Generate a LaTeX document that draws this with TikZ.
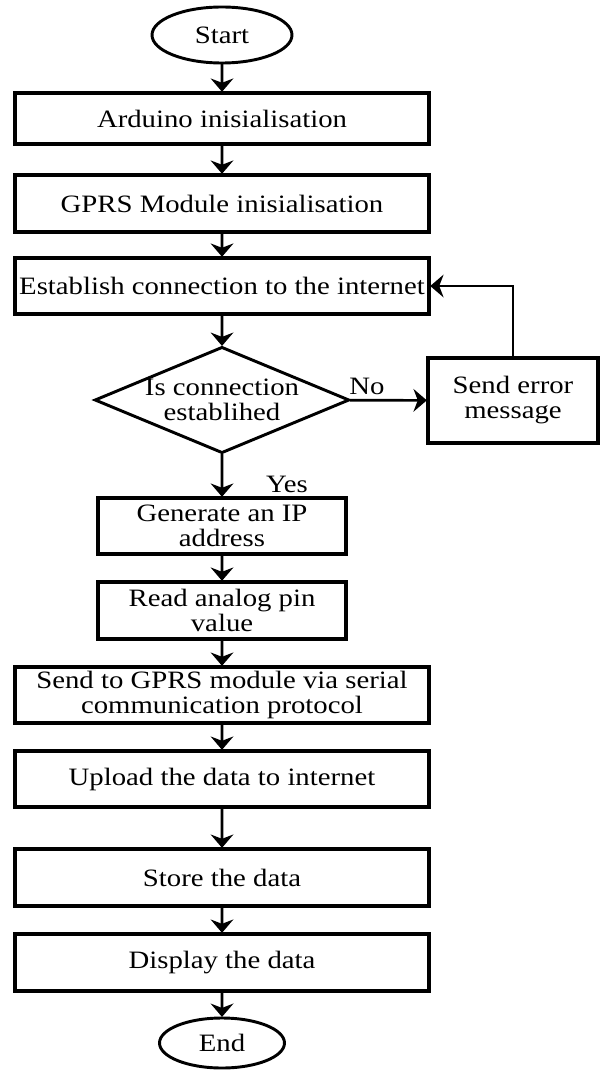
\documentclass[tikz,border=0pt]{standalone}
\usepackage{fontspec}
\setmainfont{Liberation Serif}[FakeStretch=1.15]
\usepackage{tikz}
\usetikzlibrary{shapes,arrows.meta,positioning}
\tikzstyle{flow} = [line width=2pt,-{Stealth[length=10pt,width=17pt]}]
\tikzstyle{proc} = [rectangle, draw, line width=2.4pt, align=center, font=\fontsize{25}{25}\selectfont]
\tikzstyle{term} = [ellipse, draw, line width=2.2pt, font=\fontsize{25}{25}\selectfont]

\begin{document}
\begin{tikzpicture}[x=1pt, y=-1pt, scale=0.75, transform shape]
    \useasboundingbox (0,0) rectangle (600,1070);
    % main column
    \node[term, minimum width=140pt, minimum height=56pt] (start) at (222,35) {Start};
    \node[proc, minimum width=414pt, minimum height=51pt] (ard) at (222,118.5) {Arduino inisialisation};
    \node[proc, minimum width=414pt, minimum height=57pt] (gprs) at (222,203.5) {GPRS Module inisialisation};
    \node[proc, minimum width=414pt, minimum height=56pt, inner xsep=0pt] (est) at (222,286) {Establish connection to the internet};
    \node[diamond, draw, line width=2.2pt, aspect=2.4, inner sep=0pt, align=center, font=\fontsize{25}{25}\selectfont] (dec) at (222,400) {Is connection\\establihed};
    \node[proc, minimum width=170pt, minimum height=85pt] (err) at (513,400.5) {Send error\\message};
    \node[proc, minimum width=248pt, minimum height=56pt] (gen) at (222,526) {Generate an IP\\address};
    \node[proc, minimum width=248pt, minimum height=57pt] (read) at (222,610.5) {Read analog pin\\value};
    \node[proc, minimum width=414pt, minimum height=56pt] (ser) at (222,695) {Send to GPRS module via serial\\communication protocol};
    \node[proc, minimum width=414pt, minimum height=56pt] (up) at (222,779) {Upload the data to internet};
    \node[proc, minimum width=414pt, minimum height=57pt] (store) at (222,877.5) {Store the data};
    \node[proc, minimum width=414pt, minimum height=57pt] (disp) at (222,962.5) {Display the data};
    \node[term, minimum width=125pt, minimum height=50pt] (stop) at (222,1043) {End};
    % labels
    \node[font=\fontsize{25}{25}\selectfont] (lblno) at (367,386) {No};
    \node[font=\fontsize{25}{25}\selectfont] (lblyes) at (287,484) {Yes};
    % connectors
    \draw[flow] (start) -- (ard);
    \draw[flow] (ard) -- (gprs);
    \draw[flow] (gprs) -- (est);
    \draw[flow] (est) -- (dec);
    \draw[flow] (dec) -- (err);
    \draw[flow] (err.north) |- (est.east);
    \draw[flow] (dec) -- (gen);
    \draw[flow] (gen) -- (read);
    \draw[flow] (read) -- (ser);
    \draw[flow] (ser) -- (up);
    \draw[flow] (up) -- (store);
    \draw[flow] (store) -- (disp);
    \draw[flow] (disp) -- (stop);
\end{tikzpicture}
\end{document}
